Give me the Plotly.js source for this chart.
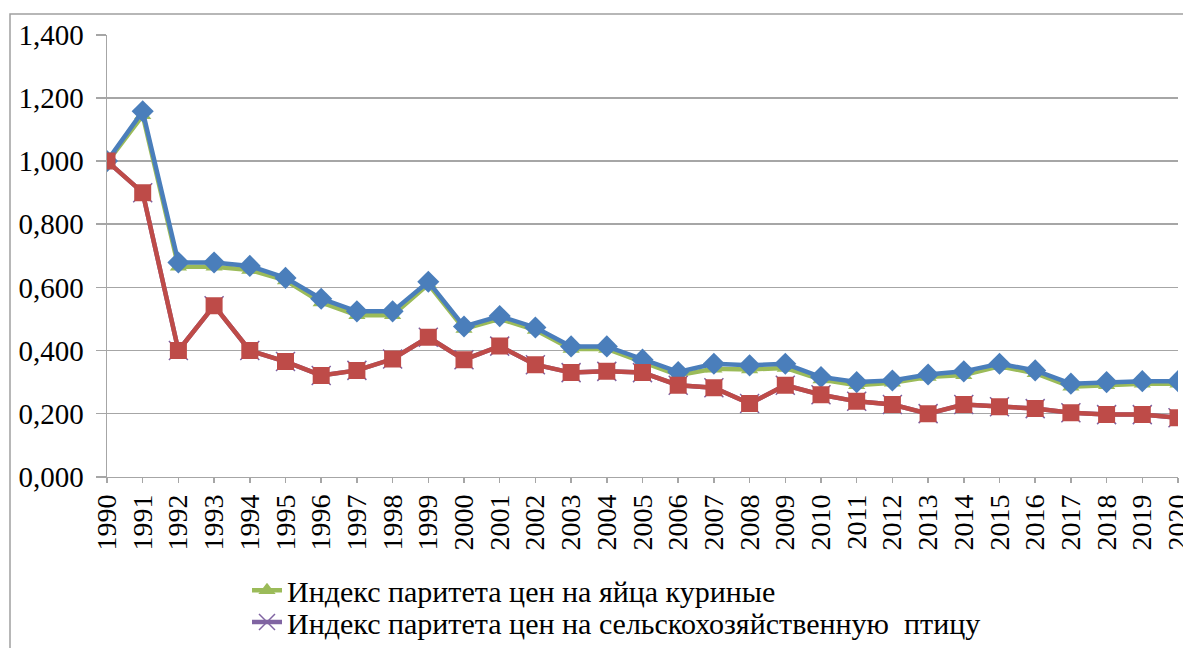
<!DOCTYPE html>
<html>
<head>
<meta charset="utf-8">
<script src="https://cdn.plot.ly/plotly-3.0.1.min.js"></script>
<style>html,body{margin:0;padding:0;background:#fff;}#chart{width:1183px;height:648px;}</style>
</head>
<body>
<div id="chart"></div>
<script>
const years = [1990,1991,1992,1993,1994,1995,1996,1997,1998,1999,2000,2001,2002,2003,2004,2005,2006,2007,2008,2009,2010,2011,2012,2013,2014,2015,2016,2017,2018,2019,2020];
const eggs = [0.995,1.145,0.665,0.665,0.655,0.622,0.552,0.512,0.512,0.610,0.468,0.500,0.465,0.405,0.405,0.365,0.322,0.342,0.340,0.345,0.308,0.290,0.298,0.316,0.322,0.350,0.328,0.285,0.290,0.295,0.295];
const poultry = [1.000,0.900,0.400,0.542,0.400,0.365,0.321,0.337,0.373,0.442,0.371,0.414,0.355,0.330,0.334,0.330,0.290,0.282,0.232,0.290,0.260,0.239,0.229,0.200,0.229,0.222,0.216,0.203,0.197,0.197,0.187];
const blueSeries = [1.000,1.158,0.679,0.679,0.668,0.630,0.564,0.524,0.524,0.618,0.476,0.509,0.473,0.413,0.413,0.371,0.332,0.358,0.353,0.358,0.316,0.300,0.305,0.324,0.334,0.358,0.337,0.295,0.300,0.303,0.303];
const redSeries = [1.000,0.900,0.400,0.542,0.400,0.365,0.321,0.337,0.373,0.442,0.371,0.414,0.355,0.330,0.334,0.330,0.290,0.282,0.232,0.290,0.260,0.239,0.229,0.200,0.229,0.222,0.216,0.203,0.197,0.197,0.187];
const yTickVals = [0,0.2,0.4,0.6,0.8,1.0,1.2,1.4];
const yTickText = ['0,000','0,200','0,400','0,600','0,800','1,000','1,200','1,400'];
const names = ['Индекс паритета цен на яйца куриные','Индекс паритета цен на сельскохозяйственную  птицу'];

const FONT = 'Liberation Serif';
const W = 1183, H = 648;

const traces = [
  {x: years, y: eggs, name: names[0], type: 'scatter', mode: 'lines+markers', legend: 'legend',
   line: {color: '#9BBB59', width: 4.5}, marker: {symbol: 'triangle-up', size: 15, color: '#9BBB59'}},
  {x: years, y: poultry, name: names[1], type: 'scatter', mode: 'lines+markers', legend: 'legend2',
   line: {color: '#8064A2', width: 4.5}, marker: {symbol: 'x-thin', size: 19, color: '#8064A2', line: {color: '#8064A2', width: 1.5}}},
  {x: years, y: blueSeries, name: 'blue', showlegend: false, type: 'scatter', mode: 'lines+markers',
   line: {color: '#4A7EBB', width: 4.5}, marker: {symbol: 'diamond', size: 17, color: '#4A7EBB'}},
  {x: years, y: redSeries, name: 'red', showlegend: false, type: 'scatter', mode: 'lines+markers',
   line: {color: '#BE4B48', width: 4.5}, marker: {symbol: 'square', size: 17, color: '#BE4B48'}}
];

const layout = {
  width: W, height: H,
  margin: {l: 0, r: 0, t: 0, b: 0, pad: 0},
  paper_bgcolor: '#fff', plot_bgcolor: '#fff',
  font: {family: FONT, color: '#000', size: 26},
  showlegend: true,
  legend: {x: 247 / W, xanchor: 'left', y: 1 - 593 / H, yanchor: 'middle',
           font: {family: FONT, size: 30, color: '#000'}, bgcolor: 'rgba(0,0,0,0)', borderwidth: 0},
  legend2: {x: 247 / W, xanchor: 'left', y: 1 - 625 / H, yanchor: 'middle',
           font: {family: FONT, size: 30, color: '#000'}, bgcolor: 'rgba(0,0,0,0)', borderwidth: 0},
  xaxis: {type: 'linear', range: [1990, 2020], domain: [107 / W, 1178 / W],
          tickmode: 'array', tickvals: years, ticktext: years.map(String),
          tickangle: -90, showgrid: false, zeroline: false, showline: true, linecolor: '#a6a6a6', linewidth: 1.5,
          ticks: 'outside', ticklen: 5, tickcolor: '#a6a6a6', tickwidth: 1.5, automargin: false,
          ticklabeloverflow: 'allow',
          tickfont: {family: FONT, size: 28, color: '#000'}},
  yaxis: {range: [0, 1.4], domain: [1 - 479 / H, 1 - 35 / H],
          tickmode: 'array', tickvals: yTickVals, ticktext: yTickText,
          showgrid: true, gridcolor: '#a6a6a6', gridwidth: 1.5, zeroline: false, automargin: false,
          showline: true, linecolor: '#a6a6a6', linewidth: 1.5,
          ticks: 'outside', ticklen: 10, tickcolor: '#a6a6a6', tickwidth: 1.5,
          tickfont: {family: FONT, size: 29, color: '#000'}, ticklabelstandoff: 6},
  shapes: [{type: 'rect', xref: 'paper', yref: 'paper', x0: 10 / W, x1: 1.05, y0: -0.05, y1: 1 - 14 / H,
            line: {color: '#a0a0a0', width: 1.5}, fillcolor: 'rgba(0,0,0,0)', layer: 'below'}]
};

Plotly.newPlot('chart', traces, layout, {displayModeBar: false, staticPlot: true});
</script>
</body>
</html>
